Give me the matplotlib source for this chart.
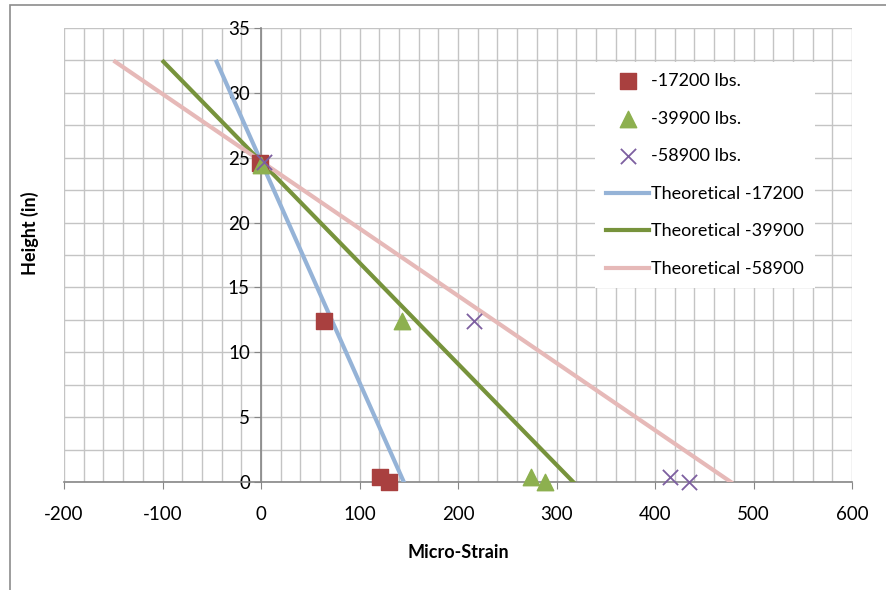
import matplotlib
matplotlib.use("Agg")
from matplotlib import pyplot as plt
from matplotlib.patches import Rectangle
from matplotlib.ticker import MultipleLocator

plt.rcParams['font.family'] = ['Lato', 'DejaVu Sans']
plt.rcParams['axes.unicode_minus'] = False

# measured strain vs height
x_17200 = [-1, 64, 121, 130]
y_17200 = [24.6, 12.4, 0.4, 0.0]
x_39900 = [0, 143, 274, 288]
y_39900 = [24.4, 12.4, 0.4, 0.0]
x_58900 = [3, 216, 415, 435]
y_58900 = [24.7, 12.4, 0.4, 0.0]

# theoretical lines
theo_h = [32.4, 0.0]
theo_17200 = [-45, 145]
theo_39900 = [-99, 317]
theo_58900 = [-148, 477]

fig = plt.figure(figsize=(8.86, 5.90), dpi=100)
ax = fig.add_axes([64/886, 1-482/590, (852-64)/886, (482-28)/590])

ax.set_xlim(-200, 600)
ax.set_ylim(0, 35)
ax.xaxis.set_major_locator(MultipleLocator(100))
ax.xaxis.set_minor_locator(MultipleLocator(20))
ax.yaxis.set_major_locator(MultipleLocator(5))
ax.yaxis.set_minor_locator(MultipleLocator(2.5))
ax.grid(True, which='both', color='#c4c4c4', linewidth=1.0, zorder=0)
ax.set_axisbelow(True)

for s in ['top', 'right']:
    ax.spines[s].set_visible(False)
ax.spines['left'].set_position(('data', 0))
ax.spines['bottom'].set_position(('data', 0))
for s in ['left', 'bottom']:
    ax.spines[s].set_color('#868686')
    ax.spines[s].set_linewidth(1.2)
ax.tick_params(which='major', direction='out', length=5, color='#868686',
               labelsize=13.5, pad=3)
ax.tick_params(which='minor', length=0)
ax.tick_params(axis='x', pad=12)

ax.plot(theo_17200, theo_h, color='#95b3d7', lw=3, label='Theoretical -17200', zorder=3)
ax.plot(theo_39900, theo_h, color='#77933c', lw=3, label='Theoretical -39900', zorder=3)
ax.plot(theo_58900, theo_h, color='#e6b9b8', lw=3, label='Theoretical -58900', zorder=3)

ax.scatter(x_17200, y_17200, marker='s', s=120, color='#a9403f', label='-17200 lbs.', zorder=4, clip_on=False)
ax.scatter(x_39900, y_39900, marker='^', s=140, color='#8db04f', label='-39900 lbs.', zorder=4, clip_on=False)
ax.scatter(x_58900, y_58900, marker='x', s=120, color='#7d5fa0', linewidths=1.3, label='-58900 lbs.', zorder=4, clip_on=False)

h, l = ax.get_legend_handles_labels()
order = [3, 4, 5, 0, 1, 2]
leg = ax.legend([h[i] for i in order], [l[i] for i in order],
                loc='upper left', bbox_to_anchor=(595/886, 1-62/590),
                bbox_transform=fig.transFigure, frameon=True, fancybox=False,
                edgecolor='none', facecolor='white', framealpha=1,
                fontsize=13, handlelength=2.4, handletextpad=0.1,
                labelspacing=1.2, borderpad=0.6, borderaxespad=0)
leg.set_zorder(5)

fig.text(30/886, 1-233/590, 'Height (in)', rotation=90, ha='center', va='center',
         fontsize=13, fontweight='bold')
fig.text(458/886, 1-553/590, 'Micro-Strain', ha='center', va='center',
         fontsize=13, fontweight='bold')

fig.patches.append(Rectangle((10/886, -0.1), 1.2, 1.1 - 5/590, transform=fig.transFigure,
                             fill=False, edgecolor='#8c8c8c', linewidth=1.2))

plt.savefig("out.png", dpi=100)
